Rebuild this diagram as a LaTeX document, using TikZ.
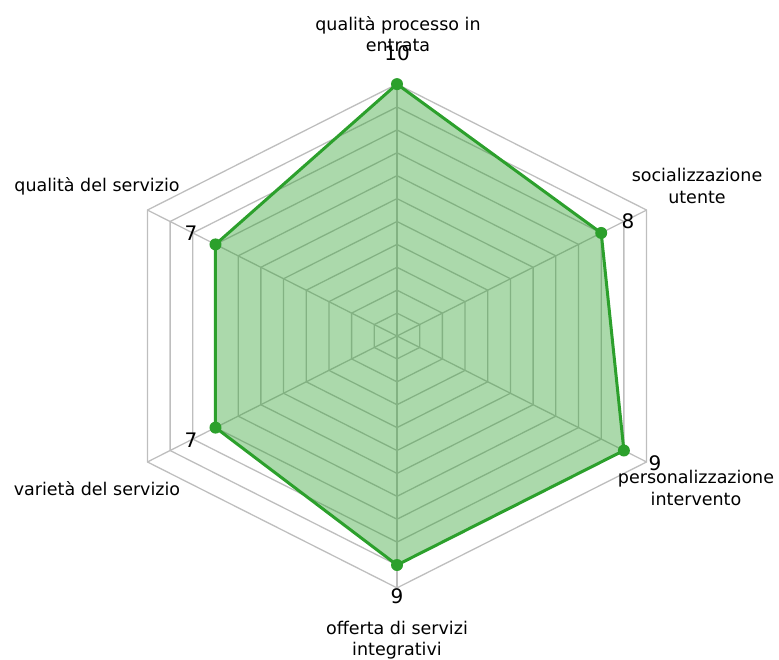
\documentclass[tikz,border=0pt]{standalone}
\usepackage{fontspec}
\setmainfont{DejaVu Sans}
\definecolor{dgreen}{RGB}{44,160,44}
\definecolor{gridc}{RGB}{190,190,190}
\begin{document}
\begin{tikzpicture}[x=1pt,y=-1pt,
  lbl/.style={font=\fontsize{17.5}{21.5}\selectfont, align=center, text=black, inner sep=0pt},
  num/.style={font=\fontsize{20}{24}\selectfont, text=black, inner sep=0pt},
  dot/.style={circle, fill=dgreen, inner sep=0pt, minimum size=12pt},
  ring/.style={draw=gridc, line width=1.3pt},
  series/.style={draw=dgreen, line width=3pt, line join=round}]
\useasboundingbox (0,0) rectangle (779,659);
\coordinate (O) at (397,336);
\begin{scope}[shift={(O)}, x=26.2pt, y=22.9pt]
  % grid rings
  \foreach \r in {1,...,11}
    \draw[ring] (0,\r) -- ({0.8660*\r},{0.5*\r}) -- ({0.8660*\r},{-0.5*\r}) -- (0,-\r)
      -- ({-0.8660*\r},{-0.5*\r}) -- ({-0.8660*\r},{0.5*\r}) -- cycle;
  % spokes
  \coordinate (v1) at (0,11);
  \coordinate (v2) at (9.526,5.5);
  \coordinate (v3) at (9.526,-5.5);
  \coordinate (v4) at (0,-11);
  \coordinate (v5) at (-9.526,-5.5);
  \coordinate (v6) at (-9.526,5.5);
  \foreach \v in {v1,v2,v3,v4,v5,v6}
    \draw[ring] (0,0) -- (\v);
  % data
  \coordinate (p1) at (0,11);
  \coordinate (p2) at (7.794,4.5);
  \coordinate (p3) at (8.660,-5);
  \coordinate (p4) at (0,-10);
  \coordinate (p5) at (-6.928,-4);
  \coordinate (p6) at (-6.928,4);
  \fill[dgreen, fill opacity=0.4] (p1) -- (p2) -- (p3) -- (p4) -- (p5) -- (p6) -- cycle;
  \draw[series] (p1) -- (p2) -- (p3) -- (p4) -- (p5) -- (p6) -- cycle;
  \foreach \p in {p1,p2,p3,p4,p5,p6}
    \node[dot] (d\p) at (\p) {};
\end{scope}
% axis labels
\node[lbl] (l1) at (398,34) {qualità processo in\\entrata};
\node[lbl] (l2) at (697,186) {socializzazione\\utente};
\node[lbl] (l3) at (696,488) {personalizzazione\\intervento};
\node[lbl] (l4) at (397,640) {offerta di servizi\\integrativi};
\node[lbl] (l5) at (97,186) {qualità del servizio};
\node[lbl] (l6) at (97,489) {varietà del servizio};
% value labels
\node[num] (n1) at (397,53) {10};
\node[num] (n2) at (628,221) {8};
\node[num] (n3) at (655,463) {9};
\node[num] (n4) at (397,596) {9};
\node[num] (n5) at (191,233) {7};
\node[num] (n6) at (191,440) {7};
\end{tikzpicture}
\end{document}
